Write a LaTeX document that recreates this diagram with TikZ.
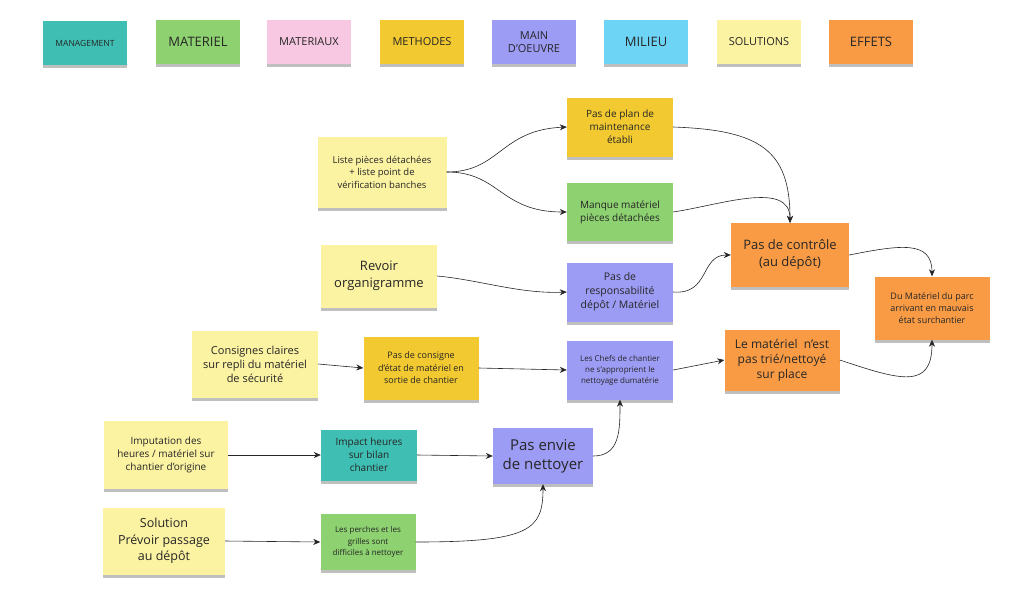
\documentclass[tikz,border=0pt]{standalone}
\usepackage{fontspec}
\setmainfont{Open Sans}
\usetikzlibrary{arrows.meta,shadows}
\definecolor{cTeal}{HTML}{3FBFB3}
\definecolor{cGreen}{HTML}{8DD170}
\definecolor{cPink}{HTML}{F8C8E2}
\definecolor{cGold}{HTML}{F2C930}
\definecolor{cLav}{HTML}{9D9CF5}
\definecolor{cBlue}{HTML}{6DD4F6}
\definecolor{cPale}{HTML}{FBF2A2}
\definecolor{cOrange}{HTML}{F99B45}
\begin{document}
\begin{tikzpicture}[x=1pt,y=-1pt,
  note/.style={rectangle,align=center,text=black!85,inner sep=2pt,
     drop shadow={shadow xshift=0pt,shadow yshift=-3pt,opacity=0.25,fill=black}},
  nt/.style n args={3}{note,minimum width=#1,minimum height=#2,text width=#1-8},
  arr/.style={-{Stealth[length=7pt,width=6pt]},black!85,line width=0.6pt},
  leg/.style={note,minimum width=84,minimum height=44,font=\fontsize{11}{13}\selectfont}]
\useasboundingbox (0,0) rectangle (1016,592);
\fill[white] (0,0) rectangle (1016,592);
% legend
\node[leg,fill=cTeal,font=\fontsize{8.5}{10}\selectfont] (l1) at (85,43) {MANAGEMENT};
\node[leg,fill=cGreen,font=\fontsize{13}{15}\selectfont] (l2) at (198,42) {MATERIEL};
\node[leg,fill=cPink] (l3) at (309,42) {MATERIAUX};
\node[leg,fill=cGold] (l4) at (422,42) {METHODES};
\node[leg,fill=cLav,align=center] (l5) at (534,42) {MAIN\\D'OEUVRE};
\node[leg,fill=cBlue,font=\fontsize{13}{15}\selectfont] (l6) at (646,42) {MILIEU};
\node[leg,fill=cPale] (l7) at (759,42) {SOLUTIONS};
\node[leg,fill=cOrange,font=\fontsize{13}{15}\selectfont] (l8) at (871,42) {EFFETS};
% nodes
\node[note,fill=cPale,minimum width=129,minimum height=71,font=\fontsize{9.5}{12.5}\selectfont] (liste) at (382,172) {Liste pièces détachées\\+ liste point de\\vérification banches};
\node[note,fill=cGold,minimum width=106,minimum height=59,font=\fontsize{10}{13}\selectfont] (plan) at (620,127) {Pas de plan de\\maintenance\\établi};
\node[note,fill=cGreen,minimum width=106,minimum height=58,font=\fontsize{10}{13}\selectfont] (manque) at (620,212) {Manque matériel\\pièces détachées};
\node[note,fill=cPale,minimum width=116,minimum height=63,font=\fontsize{13}{17}\selectfont] (revoir) at (379,276) {Revoir\\organigramme};
\node[note,fill=cLav,minimum width=106,minimum height=59,font=\fontsize{10.5}{14}\selectfont] (resp) at (620,292) {Pas de\\responsabilité\\dépôt / Matériel};
\node[note,fill=cOrange,minimum width=118,minimum height=64,font=\fontsize{13}{17}\selectfont] (ctrl) at (790,255) {Pas de contrôle\\(au dépôt)};
\node[note,fill=cOrange,minimum width=115,minimum height=63,font=\fontsize{9}{12}\selectfont] (effet) at (932,308) {Du Matériel du parc\\arrivant en mauvais\\état surchantier};
\node[note,fill=cPale,minimum width=126,minimum height=67,font=\fontsize{11}{14}\selectfont] (cons) at (255,364) {Consignes claires\\sur repli du matériel\\de sécurité};
\node[note,fill=cGold,minimum width=115,minimum height=63,font=\fontsize{9}{12.5}\selectfont] (pcons) at (421,368) {Pas de consigne\\d'état de matériel en\\sortie de chantier};
\node[note,fill=cLav,minimum width=106,minimum height=59,font=\fontsize{8}{11}\selectfont] (chefs) at (620,370) {Les Chefs de chantier\\ne s'approprient le\\nettoyage dumatérie};
\node[note,fill=cOrange,minimum width=115,minimum height=61,font=\fontsize{12}{15}\selectfont] (trie) at (782,360) {Le matériel\ \ n'est\\pas trié/nettoyé\\sur place};
\node[note,fill=cPale,minimum width=124,minimum height=68,font=\fontsize{10}{13}\selectfont] (imput) at (166,455) {Imputation des\\heures / matériel sur\\chantier d'origine};
\node[note,fill=cTeal,minimum width=96,minimum height=51,font=\fontsize{10}{13}\selectfont] (impact) at (369,455) {Impact heures\\sur bilan\\chantier};
\node[note,fill=cLav,minimum width=100,minimum height=56,font=\fontsize{15}{19}\selectfont] (envie) at (543,456) {Pas envie\\de nettoyer};
\node[note,fill=cPale,minimum width=122,minimum height=67,font=\fontsize{12.5}{16.5}\selectfont] (sol) at (164,541) {Solution\\Prévoir passage\\au dépôt};
\node[note,fill=cGreen,minimum width=95,minimum height=56,font=\fontsize{8}{11.5}\selectfont] (perch) at (368,542) {Les perches et les\\grilles sont\\difficiles à nettoyer};
% connectors
\draw[arr] (liste.east) .. controls (500,172) and (500,130) .. (plan.west);
\draw[arr] (liste.east) .. controls (500,172) and (500,212) .. (manque.west);
\draw[arr] (plan.east) .. controls (760,130) and (790,150) .. (ctrl.north);
\draw[arr] (manque.east) .. controls (720,205) and (790,180) .. (ctrl.north);
\draw[arr] (revoir.east) .. controls (480,280) and (520,294) .. (resp.west);
\draw[arr] (resp.east) .. controls (710,295) and (700,255) .. (ctrl.west);
\draw[arr] (ctrl.east) .. controls (900,245) and (932,240) .. (effet.north);
\draw[arr] (cons.east) -- (pcons.west);
\draw[arr] (pcons.east) -- (chefs.west);
\draw[arr] (chefs.east) -- (trie.west);
\draw[arr] (trie.east) .. controls (900,380) and (932,390) .. (effet.south);
\draw[arr] (imput.east) -- (impact.west);
\draw[arr] (impact.east) -- (envie.west);
\draw[arr] (envie.east) .. controls (620,456) and (620,430) .. (chefs.south);
\draw[arr] (sol.east) -- (perch.west);
\draw[arr] (perch.east) .. controls (530,542) and (543,530) .. (envie.south);
\end{tikzpicture}
\end{document}
